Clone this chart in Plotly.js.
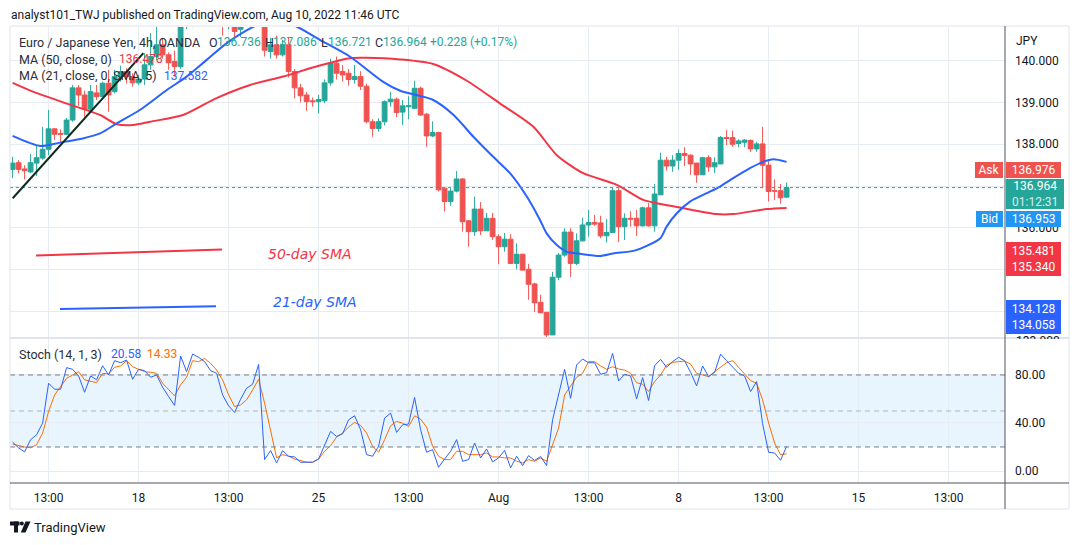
<!DOCTYPE html>
<html><head><meta charset="utf-8">
<script src="https://cdn.plot.ly/plotly-3.0.1.min.js"></script>
<style>html,body{margin:0;padding:0;background:#fff;}#chart{width:1079px;height:545px;}</style>
</head><body><div id="chart"></div>
<script>
// ---------- DATA ----------
const opens = [137.40,137.56,137.41,137.34,137.55,137.67,137.88,138.37,138.26,138.24,
138.58,139.35,139.18,138.84,139.23,139.14,139.46,139.26,139.62,139.74,
139.62,139.47,139.56,139.90,140.10,140.38,140.14,139.98,139.86,141.00,
141.20,141.05,141.45,141.70,141.40,141.10,140.85,141.05,140.75,141.15,
141.55,141.80,141.90,140.22,140.38,140.14,140.38,139.74,139.35,139.18,
139.04,139.02,139.04,139.47,139.94,139.74,139.70,139.55,139.62,139.39,
138.54,138.38,138.54,139.02,139.08,138.77,138.90,138.86,139.34,138.72,
138.20,138.28,136.95,136.63,136.88,137.17,136.17,135.91,136.45,135.93,
136.23,135.79,135.55,135.73,135.15,135.37,135.01,134.66,134.22,133.98,
133.44,134.82,135.35,135.90,135.15,135.69,136.07,136.13,136.12,135.81,
135.89,136.89,136.03,136.23,136.23,136.05,136.48,136.05,136.79,137.62,
137.48,137.62,137.78,137.74,137.55,137.27,137.68,137.46,137.53,138.16,
138.16,138.02,138.05,138.09,137.89,138.01,137.50,136.89,136.89,136.736];
const highs = [137.70,137.62,137.50,137.77,137.98,138.42,138.82,138.39,138.36,138.63,
139.42,139.42,139.28,139.42,139.42,139.50,139.78,139.78,139.88,139.82,
139.70,139.66,140.18,140.66,140.85,140.55,140.20,140.24,141.10,141.35,
141.45,141.60,141.90,141.95,141.65,141.30,141.20,141.15,141.30,141.70,
141.95,142.10,141.95,140.55,140.60,140.50,140.55,139.80,139.45,139.25,
139.12,139.18,139.55,140.05,140.10,139.90,139.80,139.90,139.75,139.45,
138.60,138.62,139.05,139.25,139.12,139.06,139.15,139.52,139.38,138.75,
138.55,138.30,136.97,136.95,137.36,137.19,136.19,136.75,136.62,136.36,
136.36,135.85,135.88,135.85,135.63,135.38,135.14,134.69,134.40,133.99,
134.95,135.40,135.99,135.99,135.87,136.25,136.43,136.31,136.29,136.21,
136.96,136.95,136.35,136.40,136.43,136.51,136.59,137.05,137.80,137.70,
137.74,137.88,137.93,137.76,137.55,137.70,137.74,137.69,138.20,138.34,
138.33,138.12,138.12,138.12,138.06,138.42,137.64,137.16,137.05,137.086];
const lows = [137.19,137.30,137.16,137.31,137.24,137.63,137.74,138.10,138.03,138.22,
138.54,138.92,138.66,138.80,139.06,139.06,138.78,139.22,139.50,139.45,
139.38,139.42,139.42,139.78,140.02,140.05,139.78,139.62,139.80,140.76,
140.80,140.95,141.30,141.20,140.95,140.60,140.75,140.50,140.57,141.00,
141.40,141.50,140.10,140.05,140.05,140.10,139.60,139.10,139.00,138.80,
138.90,138.74,138.98,139.40,139.55,139.50,139.40,139.45,139.30,138.50,
138.18,138.30,138.45,138.90,138.65,138.46,138.60,138.84,138.68,137.94,
138.17,136.87,136.39,136.53,136.85,135.91,135.55,135.81,135.83,135.93,
135.71,135.13,135.43,135.14,135.01,134.98,134.28,133.99,133.96,133.38,
133.44,134.75,135.31,134.82,135.11,135.67,135.79,136.05,135.75,135.65,
135.89,135.66,135.71,136.03,135.81,136.03,136.03,135.91,136.79,137.37,
137.34,137.39,137.48,137.27,137.08,137.27,137.34,137.31,137.53,137.98,
137.94,137.93,137.93,137.82,137.82,136.95,136.63,136.67,136.58,136.721];
const closes = [137.55,137.40,137.37,137.56,137.68,137.88,138.37,138.24,138.24,138.58,
139.35,139.18,138.84,139.26,139.14,139.46,139.18,139.62,139.74,139.62,
139.47,139.56,139.90,140.10,140.38,140.14,139.95,139.86,141.00,141.20,
141.05,141.45,141.70,141.40,141.10,140.85,141.05,140.70,141.15,141.55,
141.80,141.90,140.25,140.38,140.14,140.38,139.74,139.35,139.16,139.02,
139.02,139.07,139.47,139.94,139.70,139.66,139.55,139.62,139.39,138.54,
138.38,138.54,139.02,139.08,138.76,138.92,138.92,139.34,138.70,138.20,
138.28,136.91,136.63,136.88,137.17,136.15,135.91,136.45,135.93,136.23,
135.79,135.55,135.73,135.15,135.37,134.99,134.65,134.21,133.97,133.44,
134.82,135.35,135.90,135.15,135.69,136.07,136.13,136.09,135.81,135.89,
136.89,136.03,136.23,136.21,136.05,136.48,136.05,136.81,137.62,137.48,
137.62,137.78,137.73,137.53,137.27,137.68,137.46,137.56,138.16,138.14,
138.00,138.08,138.10,137.89,138.01,137.50,136.87,136.88,136.72,136.964];

// moving averages, read at selected bars (bar index, price)
const ma50Idx = [1,4.4,9.9,15.6,18.35,21.1,23.9,29.4,34.9,40.6,46.1,51.6,57.2,59.9,65.6,71.1,76.7,82.2,87.8,91.7,96.1,101.7,106.1,109,112.8,118.3,121.1,126.7,130];
const ma50Val = [139.47,139.26,138.98,138.70,138.48,138.46,138.54,138.70,139.10,139.42,139.62,139.86,140.06,140.07,140.03,139.92,139.52,138.98,138.42,137.74,137.31,137.03,136.67,136.57,136.47,136.33,136.33,136.45,136.478];
const ma21Idx = [1,5.6,8.9,12.7,15.6,18.35,22.2,26.7,30,33.35,36.7,41.1,44.5,48.4,52.2,57.2,62.7,65.6,71.1,74.5,77.8,81.1,83.9,86.7,88.9,90,91.7,93.35,95.6,98.9,101.1,104.5,106.7,109,110,111.7,113.9,116.7,118.9,121.1,123.9,126.1,127.8,130];
const ma21Val = [138.20,137.96,138.04,138.14,138.26,138.50,138.82,139.30,139.62,140.02,140.42,140.81,141.00,140.81,140.50,140.10,139.50,139.28,139.06,138.70,138.18,137.70,137.31,136.75,136.19,135.87,135.59,135.43,135.38,135.33,135.39,135.45,135.57,135.76,136.03,136.35,136.63,136.83,136.99,137.19,137.43,137.58,137.64,137.58];

// Stochastic (14,1,3)
const stochK = [24.1,19.2,15.9,26.1,30.2,39.9,73.1,68.1,68.1,86.1,
84.7,79.2,65.6,79.2,75.9,87.7,80,91.9,90.2,92.4,
76.4,84.7,83.6,78.1,80,69.8,62,54.6,95.8,82.8,
97.4,94.7,91.1,83.6,81.4,63.4,54.3,48.8,59.8,68.9,
72.3,88.8,9.5,17,6.7,17,12.3,11.7,7.3,7.3,
7.3,10,21.1,33,28.8,31,42.7,46,34.4,13.6,
12.3,20.6,44.1,48.2,32.2,38.5,39.1,61.2,34.4,15.6,
17.8,3.1,10,16.4,26.1,8.1,9.5,23.3,10.9,18.3,
7.6,10.9,17.2,2.6,12.3,4.5,12.8,8.8,12,4.5,
42.7,63.4,84.7,60.6,88.3,93.3,90.2,90.2,80.6,81.9,
98,75,80.6,79.2,60.1,77.8,58.7,87.7,93,86.4,
91.1,94.7,91.9,82.2,70.9,87.5,78.6,82.2,97.4,91.9,
86.4,81.4,79.2,66.2,74.5,39.4,15.6,15,8.9,20.58];
const stochD = [22.5,21.1,20,19.4,21.9,31.6,49.6,63.4,70.3,77.2,
80,82.8,75.9,74.5,73.6,81.4,80.8,86.4,87.5,91.9,
86.9,84.7,82.8,82.2,81.4,73.1,67.6,62.6,71.7,78.1,
91.9,91.1,93.8,89.7,84.1,75.9,63.4,53.7,55,59.3,
67.6,76.4,56.5,34.4,10.9,13.6,12.3,10,8.9,7.3,
7.3,10,16.4,21.1,28.3,31.6,36.6,40.5,38,31.6,
20.6,15.6,26.1,37.7,41.3,39.9,37.1,46,43.2,36.6,
20.6,12.3,9.5,9.5,16.4,16.4,13.6,13.6,13.6,15,
11.7,11.7,10.9,10.9,8.1,6.7,9.5,8.1,10.9,8.1,
21.1,35.8,63.4,70.3,78.1,81.4,91.1,91.1,87.5,84.7,
86.9,85,84.1,81.4,73.6,72.3,66.2,74.5,80,88.3,
90.5,91.1,91.6,89.1,81.4,80,78.6,82.8,86.4,90.2,
91.9,86.1,80.8,75.3,73.1,59.3,40,23.3,13.6,14.33];

// drawings (bar index pairs, prices)
const trendIdx = [1.02, 22.8], trendVal = [136.71, 140.18];
const sma50DrawIdx = [4.9, 35.9], sma50DrawVal = [135.340, 135.481];
const sma21DrawIdx = [8.9, 34.9], sma21DrawVal = [134.058, 134.128];

const xTickIdx = [7,22,37,52,67,82,97,112,127,142,157];
const xTickText = ['13:00','18','13:00','25','13:00','Aug','13:00','8','13:00','15','13:00'];
const priceTicks = [134,135,136,137,138,139,140];
const priceTickText = ['','','136.000','','138.000','139.000','140.000']; // others hidden behind price labels
const stochTicks = [0,40,80];
const lastClose = 136.964;

// ---------- PRESENTATION ----------
const bars = opens.map((_, i) => i + 1);
const L = 10, R = 1005, T = 27, B = 483, SEP = 338;
const px = X => (X - L) / (R - L);
const py = Y => (B - Y) / (B - T);
const FONT = 'Roboto, "Liberation Sans", Arial, sans-serif';
const UP = '#26a69a', DN = '#ef5350', GRID = '#e6ecf2', TXT = '#131722', LEG = '#2a2e39';
const xRange = [(L - 6.6) / 6, (R - 6.6) / 6];

function txt(X, Y, s, size, color, anchor, extra) {
  return Object.assign({xref:'paper', yref:'paper', x:px(X), y:py(Y), xanchor:anchor||'left', yanchor:'middle',
    text:s, showarrow:false, borderpad:0, font:{family:FONT, size:size, color:color}}, extra||{});
}
function box(X0, Y0, X1, Y1, color, s, fcolor) {
  return {xref:'paper', yref:'paper', x:px((X0+X1)/2), y:py((Y0+Y1)/2), xanchor:'center', yanchor:'middle',
    width:X1-X0, height:Y1-Y0, bgcolor:color, borderpad:0, borderwidth:0, showarrow:false, align:'center',
    text:s, font:{family:FONT, size:12, color:fcolor||'#ffffff'}};
}
function pline(X0, Y0, X1, Y1, color, w) {
  return {type:'line', xref:'paper', yref:'paper', x0:px(X0), y0:py(Y0), x1:px(X1), y1:py(Y1), line:{color:color, width:w||1}, layer:'above'};
}

const traces = [
  {type:'candlestick', x:bars, open:opens, high:highs, low:lows, close:closes, xaxis:'x', yaxis:'y',
   increasing:{line:{color:UP, width:1}, fillcolor:UP}, decreasing:{line:{color:DN, width:1}, fillcolor:DN},
   whiskerwidth:0, hoverinfo:'skip', showlegend:false},
  {type:'scatter', mode:'lines', x:ma50Idx, y:ma50Val, xaxis:'x', yaxis:'y', line:{color:'#f23645', width:2, shape:'spline', smoothing:0.7}, hoverinfo:'skip'},
  {type:'scatter', mode:'lines', x:ma21Idx, y:ma21Val, xaxis:'x', yaxis:'y', line:{color:'#2962ff', width:2, shape:'spline', smoothing:0.7}, hoverinfo:'skip'},
  {type:'scatter', mode:'lines', x:bars, y:stochD, xaxis:'x', yaxis:'y2', line:{color:'#ff6d00', width:1}, hoverinfo:'skip'},
  {type:'scatter', mode:'lines', x:bars, y:stochK, xaxis:'x', yaxis:'y2', line:{color:'#2962ff', width:1}, hoverinfo:'skip'}
];

const shapes = [
  {type:'rect', xref:'paper', yref:'y2', x0:0, x1:1, y0:20, y1:80, fillcolor:'rgba(33,150,243,0.1)', line:{width:0}, layer:'below'},
  {type:'line', xref:'paper', yref:'y2', x0:0, x1:1, y0:80, y1:80, line:{color:'#787b86', width:1, dash:'5px,4px'}},
  {type:'line', xref:'paper', yref:'y2', x0:0, x1:1, y0:20, y1:20, line:{color:'#787b86', width:1, dash:'5px,4px'}},
  {type:'line', xref:'paper', yref:'y2', x0:0, x1:1, y0:50, y1:50, line:{color:'rgba(120,123,134,0.5)', width:1, dash:'5px,4px'}},
  {type:'line', xref:'x', yref:'y', x0:xRange[0], x1:xRange[1], y0:lastClose, y1:lastClose, line:{color:UP, width:1, dash:'dot'}},
  {type:'line', xref:'x', yref:'y', x0:trendIdx[0], x1:trendIdx[1], y0:trendVal[0], y1:trendVal[1], line:{color:'#0f2a1e', width:2}},
  {type:'line', xref:'x', yref:'y', x0:sma50DrawIdx[0], x1:sma50DrawIdx[1], y0:sma50DrawVal[0], y1:sma50DrawVal[1], line:{color:'#f23645', width:2}},
  {type:'line', xref:'x', yref:'y', x0:sma21DrawIdx[0], x1:sma21DrawIdx[1], y0:sma21DrawVal[0], y1:sma21DrawVal[1], line:{color:'#2962ff', width:2}},
  // frame
  {type:'rect', xref:'paper', yref:'paper', x0:px(10), x1:px(1069), y0:py(26), y1:py(509), line:{color:'#e0e3eb', width:1}, fillcolor:'rgba(0,0,0,0)', layer:'above'},
  pline(10, SEP, 1069, SEP, '#e0e3eb', 2),
  pline(10, B, 1069, B, '#50535e', 1),
  pline(R, 26, R, 509, '#50535e', 1),
  // TradingView logo
  {type:'rect', xref:'paper', yref:'paper', x0:px(10), x1:px(19.5), y0:py(521.5), y1:py(525.5), fillcolor:TXT, line:{width:0}, layer:'above'},
  {type:'rect', xref:'paper', yref:'paper', x0:px(14), x1:px(18), y0:py(521.5), y1:py(532.5), fillcolor:TXT, line:{width:0}, layer:'above'},
  {type:'circle', xref:'paper', yref:'paper', x0:px(19.8), x1:px(23.8), y0:py(521.5), y1:py(525.5), fillcolor:TXT, line:{width:0}, layer:'above'},
  {type:'path', xref:'paper', yref:'paper', path:'M'+px(25.5)+','+py(521.5)+' L'+px(30.5)+','+py(521.5)+' L'+px(25.5)+','+py(532.5)+' L'+px(20.8)+','+py(532.5)+' Z', fillcolor:TXT, line:{width:0}, layer:'above'}
];

const LS = 12.5, VS = 12;
const annotations = [
  txt(10, 15.5, 'analyst101_TWJ published on TradingView.com, Aug 10, 2022 11:46 UTC', 12, TXT),
  txt(18, 42, 'Euro / Japanese Yen, 4h, OANDA', LS, LEG),
  txt(207.5, 42, 'O', LS, LEG), txt(216, 42, '136.736', VS, UP),
  txt(263.5, 42, 'H', LS, LEG), txt(272, 42, '137.086', VS, UP),
  txt(320, 42, 'L', LS, LEG), txt(327, 42, '136.721', VS, UP),
  txt(374, 42, 'C', LS, LEG), txt(382, 42, '136.964', VS, UP),
  txt(429, 42, '+0.228 (+0.17%)', VS, UP),
  txt(18, 59, 'MA (50, close, 0)', LS, LEG), txt(118, 59, '136.478', VS, '#f23645'),
  txt(18, 76, 'MA (21, close, 0, SMA, 5)', LS, LEG), txt(163, 76, '137.582', VS, '#2962ff'),
  txt(18, 354, 'Stoch (14, 1, 3)', LS, LEG), txt(110, 354, '20.58', VS, '#2962ff'), txt(146, 354, '14.33', VS, '#ff6d00'),
  txt(1015, 41, 'JPY', 12, TXT),
  txt(310, 254, '<i>50-day SMA</i>', 14, '#f23645', 'center', {font:{family:'"DejaVu Sans", sans-serif', size:14, color:'#f23645'}}),
  txt(315, 302, '<i>21-day SMA</i>', 14, '#2962ff', 'center', {font:{family:'"DejaVu Sans", sans-serif', size:14, color:'#2962ff'}}),
  txt(1015, 341, '133.000', 12, TXT),
  box(1006, 338.8, 1068, 354, '#ffffff', ' ', '#ffffff'),
  box(975, 162.7, 1003, 178.3, '#ef5350', 'Ask'),
  box(1005.7, 162.7, 1061, 178.3, '#ef5350', '136.976'),
  box(1005.7, 179.3, 1064, 209.3, '#26a69a', '136.964<br><span style="color:#d4efec">01:12:31</span>'),
  box(976, 210.7, 1003, 226.7, '#2196f3', 'Bid'),
  box(1005.7, 210.7, 1061, 226.7, '#2196f3', '136.953'),
  box(1005.7, 242, 1061, 276, '#f23645', '135.481<br>135.340'),
  box(1005.7, 300, 1061, 334, '#2962ff', '134.128<br>134.058'),
  txt(33, 527, 'TradingView', 13, TXT)
];

const layout = {
  width:1079, height:545, margin:{l:L, r:1079-R, t:T, b:545-B, pad:0},
  paper_bgcolor:'#ffffff', plot_bgcolor:'#ffffff', showlegend:false,
  font:{family:FONT, color:TXT, size:12},
  boxgap:0.2, boxgroupgap:0,
  xaxis:{domain:[0,1], anchor:'y2', range:xRange, rangeslider:{visible:false}, tickmode:'array', tickvals:xTickIdx, ticktext:xTickText,
    showgrid:true, gridcolor:GRID, gridwidth:1, zeroline:false, showline:false, ticks:'', tickfont:{family:FONT, size:12, color:TXT}, ticklabelstandoff:6},
  yaxis:{domain:[py(SEP),1], anchor:'x', side:'right', range:[133.366,140.806], tickmode:'array', tickvals:priceTicks, ticktext:priceTickText,
    showgrid:true, gridcolor:GRID, zeroline:false, showline:false, ticks:'', tickfont:{family:FONT, size:12, color:TXT}, ticklabelstandoff:9},
  yaxis2:{domain:[0,py(SEP)], anchor:'x', side:'right', range:[-10,110.8], tickmode:'array', tickvals:stochTicks, ticktext:stochTicks.map(v=>v.toFixed(2)),
    showgrid:true, gridcolor:GRID, zeroline:false, showline:false, ticks:'', tickfont:{family:FONT, size:12, color:TXT}, ticklabelstandoff:9},
  shapes:shapes, annotations:annotations
};

Plotly.newPlot('chart', traces, layout, {staticPlot:true, displayModeBar:false});
</script></body></html>
